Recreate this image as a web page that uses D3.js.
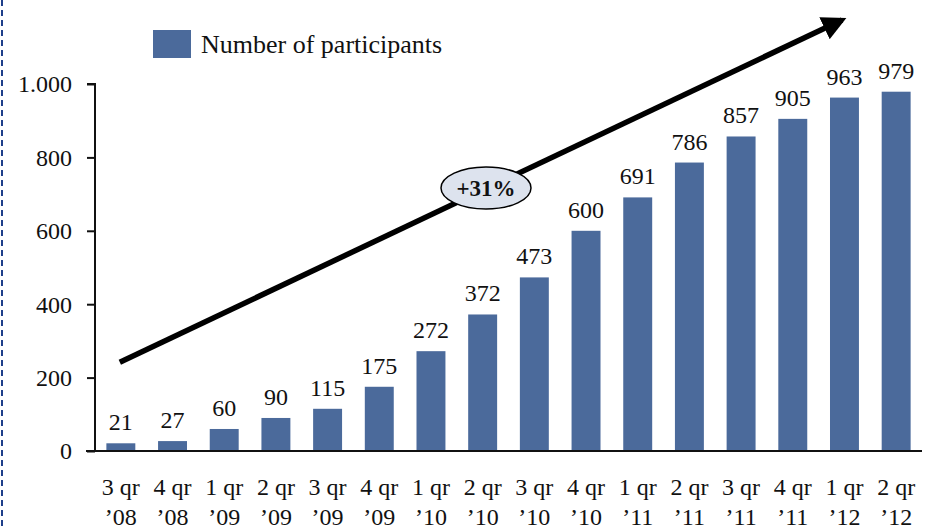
<!DOCTYPE html>
<meta charset="utf-8">
<title>Number of participants</title>
<style>
body { margin: 0; background: #fff; }
</style>
<body>
<svg></svg>
<script src="https://d3js.org/d3.v7.min.js"></script>
<script>

var quarters = ["3 qr", "4 qr", "1 qr", "2 qr", "3 qr", "4 qr", "1 qr", "2 qr",
                "3 qr", "4 qr", "1 qr", "2 qr", "3 qr", "4 qr", "1 qr", "2 qr"];
var years = ["\u201908", "\u201908", "\u201909", "\u201909", "\u201909", "\u201909", "\u201910", "\u201910",
             "\u201910", "\u201910", "\u201911", "\u201911", "\u201911", "\u201911", "\u201912", "\u201912"];
var participants = [21, 27, 60, 90, 115, 175, 272, 372, 473, 600, 691, 786, 857, 905, 963, 979];
var yTicks = [0, 200, 400, 600, 800, 1000];
var growthLabel = "+31%";

var width = 930,
    height = 529,
    font = "Liberation Serif",
    fontSize = 24;

var svg = d3.select("svg").attr("width", width).attr("height", height);

var cats = d3.range(participants.length);

var x = d3.scaleBand()
    .domain(cats)
    .range([95, 922])
    .paddingInner(0.44)
    .paddingOuter(0.22);

var y = d3.scaleLinear()
    .domain([0, 1000])
    .range([451, 84]);

function label(sel) {
    return sel.style("font-family", font)
        .style("font-size", fontSize + "px")
        .attr("fill", "#111");
}

// dashed frame edge on the left
svg.append("line")
    .attr("x1", 2).attr("x2", 2)
    .attr("y1", 0).attr("y2", height)
    .attr("stroke", "#1f3f8a")
    .attr("stroke-width", 2)
    .attr("stroke-dasharray", "6,4");

// bars
svg.append("g")
  .selectAll("rect")
  .data(participants)
  .join("rect")
    .attr("x", (d, i) => x(i))
    .attr("y", d => y(d))
    .attr("width", x.bandwidth())
    .attr("height", d => y(0) - y(d))
    .attr("fill", "#4b6a9b");

// value labels
svg.append("g")
  .selectAll("text")
  .data(participants)
  .join("text")
    .attr("x", (d, i) => x(i) + x.bandwidth() / 2)
    .attr("y", d => y(d) - 13)
    .attr("text-anchor", "middle")
    .call(label)
    .text(d => d);

// y axis
var yAxis = svg.append("g")
    .attr("transform", "translate(95,0)")
    .call(d3.axisLeft(y).tickValues(yTicks).tickSize(8).tickPadding(15)
        .tickFormat(d => d3.format(",")(d).replace(",", ".")));
yAxis.select(".domain").attr("d", "M-8," + y(1000) + "H0V" + y(0)).attr("stroke", "#111").attr("stroke-width", 2);
yAxis.selectAll(".tick line").attr("stroke", "#111").attr("stroke-width", 2);
yAxis.selectAll(".tick text").call(label).attr("dy", "0.33em");

// x axis baseline
svg.append("line")
    .attr("x1", 86).attr("x2", 922)
    .attr("y1", y(0)).attr("y2", y(0))
    .attr("stroke", "#111")
    .attr("stroke-width", 2);

// category labels in two lines
var xl = svg.append("g")
  .selectAll("text")
  .data(cats)
  .join("text")
    .attr("text-anchor", "middle")
    .call(label);
xl.append("tspan")
    .attr("x", i => x(i) + x.bandwidth() / 2)
    .attr("y", 495)
    .text(i => quarters[i]);
xl.append("tspan")
    .attr("x", i => x(i) + x.bandwidth() / 2)
    .attr("y", 525)
    .text(i => years[i]);

// legend
svg.append("rect")
    .attr("x", 153).attr("y", 30)
    .attr("width", 38).attr("height", 28)
    .attr("fill", "#4b6a9b");
svg.append("text")
    .attr("x", 201).attr("y", 53)
    .call(label)
    .style("font-size", "26px")
    .text("Number of participants");

// growth arrow
svg.append("defs").append("marker")
    .attr("id", "head")
    .attr("viewBox", "0 0 10 10")
    .attr("refX", 8).attr("refY", 5)
    .attr("markerWidth", 4.4).attr("markerHeight", 4.4)
    .attr("markerUnits", "strokeWidth")
    .attr("orient", "auto")
  .append("path")
    .attr("d", "M0,0L10,5L0,10z")
    .attr("fill", "#000");

var a0 = [x(0) + x.bandwidth() / 2 - 1, y(242)],
    a1 = [852, 15];
svg.append("line")
    .attr("x1", a0[0]).attr("y1", a0[1])
    .attr("x2", a1[0] - 10).attr("y2", a1[1] + 5)
    .attr("stroke", "#000")
    .attr("stroke-width", 5.5)
    .attr("marker-end", "url(#head)");

var ex = 486, ey = 188;
svg.append("ellipse")
    .attr("cx", ex).attr("cy", ey)
    .attr("rx", 45).attr("ry", 21)
    .attr("fill", "#dde3ee")
    .attr("stroke", "#000")
    .attr("stroke-width", 1.5);
svg.append("text")
    .attr("x", ex).attr("y", ey + 8)
    .attr("text-anchor", "middle")
    .call(label)
    .style("font-size", "23px")
    .style("font-weight", "bold")
    .text(growthLabel);

</script>
</body>
